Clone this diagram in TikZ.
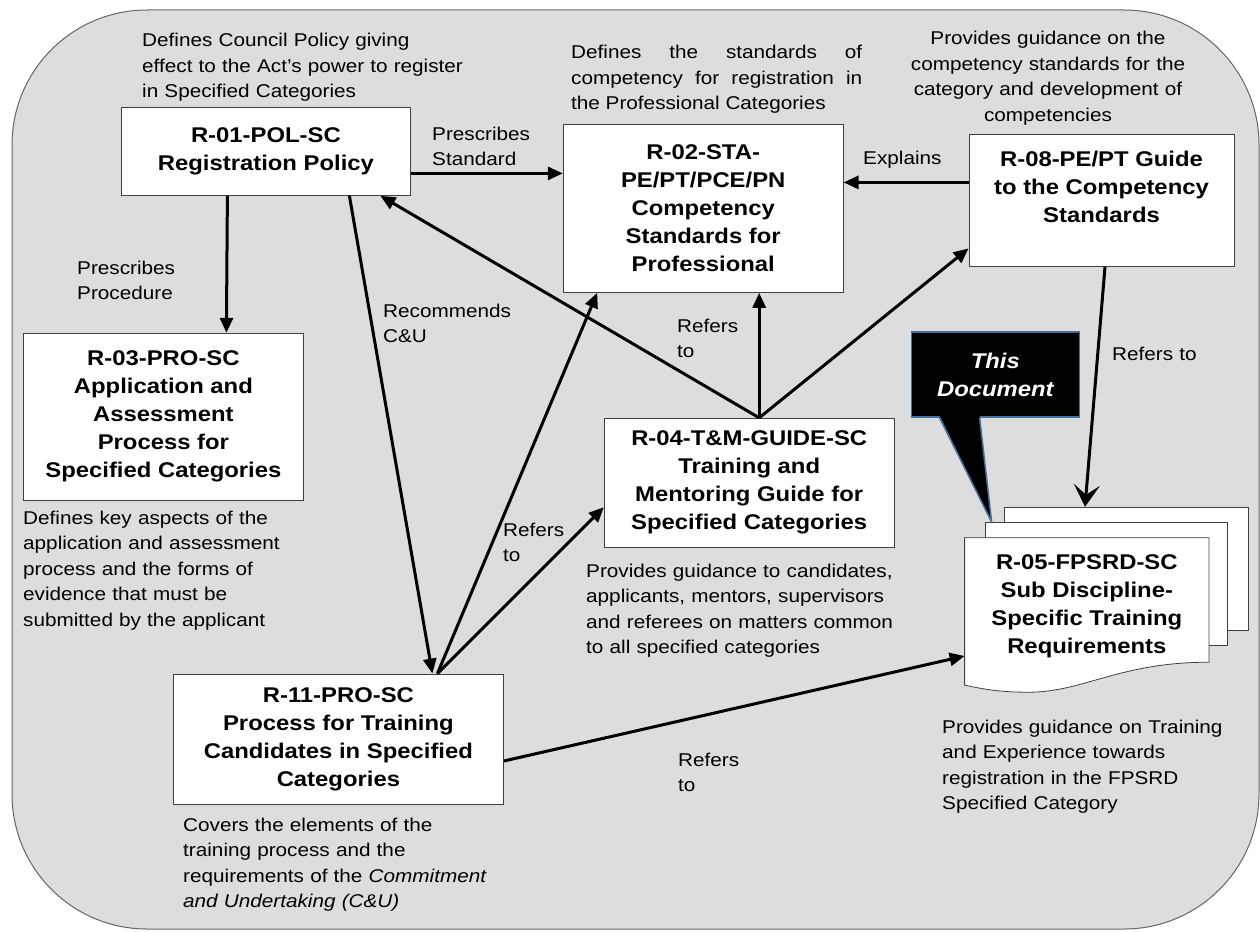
\documentclass[tikz,border=0pt]{standalone}
\usepackage{fontspec}
\setmainfont{Liberation Sans}[FakeStretch=1.12]
\usetikzlibrary{arrows.meta,positioning}
\definecolor{bggray}{RGB}{221,221,221}
\definecolor{noteblue}{RGB}{65,113,156}
\newcommand{\boxfont}{\fontsize{21.3}{28}\selectfont\bfseries}
\newcommand{\descfont}{\fontsize{18.5}{25.5}\selectfont}

\begin{document}
\begin{tikzpicture}[
  x=1pt, y=-1pt,
  docbox/.style={
    draw=black!75, fill=white, line width=0.8pt,
    align=center, inner sep=4pt, font=\boxfont
  },
  page/.style={draw=black!75, fill=white, line width=0.8pt},
  desc/.style={inner sep=0pt, font=\descfont, text width=340pt, anchor=base west, align=left},
  arr/.style={-{Triangle[length=15pt,width=13pt]}, line width=3pt},
  arrv/.style={-{Stealth[length=22pt,width=26pt,inset=10pt]}, line width=3pt}
]
\useasboundingbox (0,0) rectangle (1260,931);
\path[draw=black!60, fill=bggray, line width=1pt, rounded corners=135pt] (12,10) rectangle (1259,929);

% documents
\node[docbox, minimum width=289pt, minimum height=88pt, anchor=north west] (r01) at (121,107) {R-01-POL-SC\\Registration Policy};
\node[docbox, minimum width=280pt, minimum height=168pt, below right=17pt and 152pt of r01.north east] (r02) {R-02-STA-\\PE/PT/PCE/PN\\Competency\\Standards for\\Professional};
\node[docbox, minimum width=265pt, minimum height=132pt, below right=10pt and 125pt of r02.north east] (r08) {R-08-PE/PT Guide\\to the Competency\\Standards\\\mbox{}};
\node[docbox, minimum width=280pt, minimum height=167pt, below right=137pt and -98pt of r01.south west] (r03) {R-03-PRO-SC\\Application and\\Assessment\\Process for\\Specified Categories};
\node[docbox, minimum width=290pt, minimum height=129pt, below right=125pt and 41pt of r02.south west] (r04) {R-04-T\&M-GUIDE-SC\\Training and\\Mentoring Guide for\\Specified Categories};
\node[docbox, minimum width=330pt, minimum height=130pt, below right=173pt and 150pt of r03.south west] (r11) {R-11-PRO-SC\\Process for Training\\Candidates in Specified\\Categories};

% stack of pages for R-05
\node[page, minimum width=244pt, minimum height=123pt, below right=240pt and 35pt of r08.south west] (pg3) {};
\node[page, minimum width=242pt, minimum height=123pt, below right=15pt and -19pt of pg3.north west] (pg2) {};
\node[minimum width=244pt, minimum height=136pt, inner sep=0pt, below right=16pt and -20pt of pg2.north west] (r05) {};
\draw[page] (r05.north west) -- (r05.north east) -- ([yshift=12pt]r05.south east)
  .. controls +(-90,0) and +(55,0) .. ([xshift=64pt,yshift=-18pt]r05.south west)
  .. controls +(-30,0) and +(20,4) .. ([yshift=-11pt]r05.south west) -- cycle;
\node[font=\boxfont, align=center] (r05t) at (r05.center) {R-05-FPSRD-SC\\Sub Discipline-\\Specific Training\\Requirements};

% callout
\node[fill=black, draw=noteblue, line width=1.5pt, minimum width=168pt, minimum height=85pt, inner sep=0pt,
  align=center, text=white, font=\boxfont\itshape, above right=0pt and 16pt of r04.north east] (note) {This\\Document};
\coordinate (tip) at ([xshift=7pt]pg2.north west);
\fill[black] ([xshift=29pt,yshift=2pt]note.south west) -- (tip) -- ([xshift=69pt,yshift=2pt]note.south west) -- cycle;
\draw[noteblue, line width=1.5pt, line join=bevel] ([xshift=29pt]note.south west) -- (tip) -- ([xshift=69pt]note.south west);

% connectors
\draw[arr] ([yshift=-22pt]r01.east) -- ([yshift=35pt]r02.west);
\draw[arr] ([yshift=18pt]r08.west) -- ([yshift=26pt]r02.east);
\draw[arr] ([xshift=-38.5pt]r01.south) -- ([xshift=63pt]r03.north);
\draw[arr] ([xshift=83.5pt]r01.south) -- ([xshift=94pt]r11.north);
\draw[arr] ([xshift=10pt]r04.north) -- ([xshift=114.5pt]r01.south);
\draw[arr] ([xshift=10pt]r04.north) -- ([xshift=56pt]r02.south);
\draw[arr] ([xshift=10pt]r04.north) -- ([yshift=-48pt]r08.west);
\draw[arr] ([xshift=99pt]r11.north) -- ([xshift=-106pt]r02.south);
\draw[arr] ([xshift=99pt]r11.north) -- ([yshift=-24.5pt]r04.west);
\draw[arrv] ([xshift=3.5pt]r08.south) -- ([xshift=-41pt]pg3.north);
\draw[arr] ([yshift=-22pt]r11.east) -- ([yshift=-50pt]r05.west);

% connector labels
\node[desc] (lstd) at (432,140) {Prescribes\\Standard};
\node[desc] (lproc) at (77,274) {Prescribes\\Procedure};
\node[desc] (lrec) at (383,317) {Recommends\\C\&U};
\node[desc] (lexp) at (863,164) {Explains};
\node[desc] (lref1) at (677,332) {Refers\\to};
\node[desc] (lref2) at (503,536) {Refers\\to};
\node[desc] (lref3) at (1112,360) {Refers to};
\node[desc] (lref4) at (678,766) {Refers\\to};

% descriptions
\node[desc] (d01) at (142,47) {Defines Council Policy giving\\effect to the Act’s power to register\\in Specified Categories};
\node[desc, text width=291pt, align=justify] (d02) at (571,59) {Defines the standards of\linebreak competency for registration in\linebreak the Professional Categories};
\node[desc, anchor=base, align=center] (d08) at (1048,45) {Provides guidance on the\\competency standards for the\\category and development of\\competencies};
\node[desc] (d03) at (23,524) {Defines key aspects of the\\application and assessment\\process and the forms of\\evidence that must be\\submitted by the applicant};
\node[desc] (d04) at (586,577) {Provides guidance to candidates,\\applicants, mentors, supervisors\\and referees on matters common\\to all specified categories};
\node[desc] (d05) at (942,733) {Provides guidance on Training\\and Experience towards\\registration in the FPSRD\\Specified Category};
\node[desc] (d11) at (183,831) {Covers the elements of the\\training process and the\\requirements of the \textit{Commitment}\\\textit{and Undertaking (C\&U)}};
\end{tikzpicture}
\end{document}
